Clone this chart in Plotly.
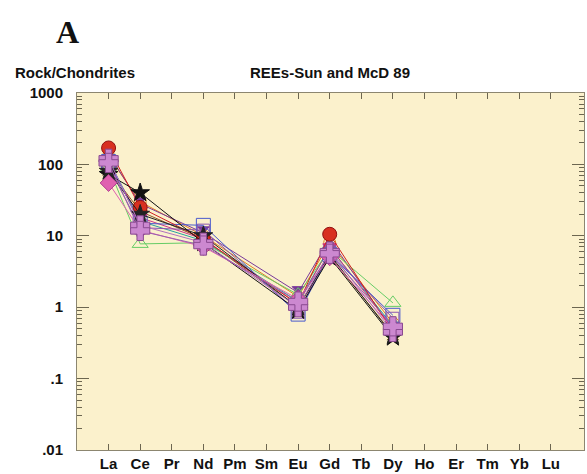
import plotly.graph_objects as go

# Rare earth elements in order (chondrite-normalised spider diagram)
elements = ["La", "Ce", "Pr", "Nd", "Pm", "Sm", "Eu", "Gd", "Tb", "Dy",
            "Ho", "Er", "Tm", "Yb", "Lu"]
measured = ["La", "Ce", "Nd", "Eu", "Gd", "Dy"]

# Rock/chondrite ratios per sample for the measured elements
s01 = [170, 25, 9.0, 1.10, 10.5, 0.45]
s02 = [72, 40, 8.0, 0.90, 5.0, 0.38]
s03 = [80, 20, 10.0, 1.00, 5.5, 0.40]
s04 = [110, 15, 14.0, 0.80, 5.5, 0.77]
s05 = [95, 13, 12.0, 0.85, 6.0, 0.70]
s06 = [90, 7.7, 8.0, 1.50, 6.5, 1.15]
s07 = [55, 12, 7.0, 1.30, 5.0, 0.50]
s08 = [100, 18, 9.0, 1.10, 7.0, 0.50]
s09 = [130, 30, 10.0, 1.40, 8.0, 0.60]
s10 = [85, 22, 9.0, 1.00, 5.2, 0.42]
s11 = [115, 16, 8.5, 1.20, 6.8, 0.55]
s12 = [140, 28, 11.0, 1.60, 9.0, 0.48]
s13 = [120, 14, 8.0, 1.00, 6.0, 0.45]
s14 = [105, 11.7, 7.3, 1.20, 5.6, 0.54]

y_ticks = [1000, 100, 10, 1, 0.1, 0.01]
y_tick_text = ["1000", "100", "10", "1", ".1", ".01"]

# (values, line colour, marker symbol, marker size, marker fill, marker outline)
samples = [
    (s09, "#e08020", "circle-open", 12, "#e08020", "#e08020"),
    (s12, "#7a3a9a", "hourglass", 12, "#7a3a9a", "#7a3a9a"),
    (s10, "#8a5a2a", "x-thin", 12, "#8a5a2a", "#8a5a2a"),
    (s11, "#2aa0a0", "circle-open", 12, "#2aa0a0", "#2aa0a0"),
    (s08, "#cc3388", "triangle-down", 12, "#cc3388", "#cc3388"),
    (s06, "#66cc66", "triangle-up-open", 14, "#66cc66", "#66cc66"),
    (s04, "#4a5acc", "square-open", 14, "#4a5acc", "#4a5acc"),
    (s05, "#8a55b0", "square-open", 12, "#8a55b0", "#8a55b0"),
    (s01, "#d02020", "circle", 14, "#d83020", "#901010"),
    (s02, "#111111", "star", 14, "#111111", "#111111"),
    (s03, "#222222", "star", 14, "#222222", "#222222"),
    (s07, "#e060b0", "diamond", 13, "#e060b0", "#b04090"),
    (s13, "#b070c0", "cross", 16, "#cc88d0", "#8a4a90"),
    (s14, "#9a60b0", "cross", 16, "#cc88d0", "#8a4a90"),
]

fig = go.Figure()
for vals, lc, sym, sz, fill, edge in samples:
    fig.add_trace(go.Scatter(
        x=measured, y=vals, mode="lines+markers",
        line=dict(color=lc, width=1),
        marker=dict(symbol=sym, size=sz, color=fill,
                    line=dict(color=edge, width=1)),
        showlegend=False, cliponaxis=False,
    ))

FAMILY = "Liberation Sans, Arial"
label_font = dict(family=FAMILY, size=15, color="#111111", weight="bold")

fig.update_layout(
    width=587, height=474,
    margin=dict(l=77, r=2, t=93, b=21),
    paper_bgcolor="white",
    plot_bgcolor="#fbf1cc",
    showlegend=False,
    font=dict(family=FAMILY, size=15, color="#111111"),
    xaxis=dict(
        type="category", categoryorder="array", categoryarray=elements,
        range=[-1, 15.05], showgrid=False, zeroline=False,
        showline=True, linecolor="#8c8670", linewidth=1, mirror="ticks",
        ticks="inside", ticklen=6, tickcolor="#6c6650",
        tickfont=label_font,
    ),
    yaxis=dict(
        type="log", range=[-2, 3], showgrid=False, zeroline=False,
        showline=True, linecolor="#8c8670", linewidth=1, mirror="ticks",
        ticks="inside", ticklen=12, tickcolor="#6c6650",
        tickvals=y_ticks, ticktext=y_tick_text,
        ticklabelstandoff=10,
        tickfont=label_font,
        minor=dict(ticks="inside", ticklen=5, tickcolor="#6c6650",
                   dtick="D1", showgrid=False),
    ),
)

# header texts, positioned in page pixels
headers = [
    ("A", 67, 31, dict(family="Liberation Serif, DejaVu Serif", size=32,
                       color="#111111", weight="bold")),
    ("Rock/Chondrites", 75, 72, label_font),
    ("REEs-Sun and McD 89", 330, 72, label_font),
]
plot_w = 587 - 77 - 2
plot_h = 474 - 93 - 21
for text, px, py, fnt in headers:
    fig.add_annotation(
        text=text, xref="paper", yref="paper",
        x=(px - 77) / plot_w, y=1 + (93 - py) / plot_h,
        xanchor="center", yanchor="middle", showarrow=False, font=fnt,
    )

fig.write_html("out.html")
